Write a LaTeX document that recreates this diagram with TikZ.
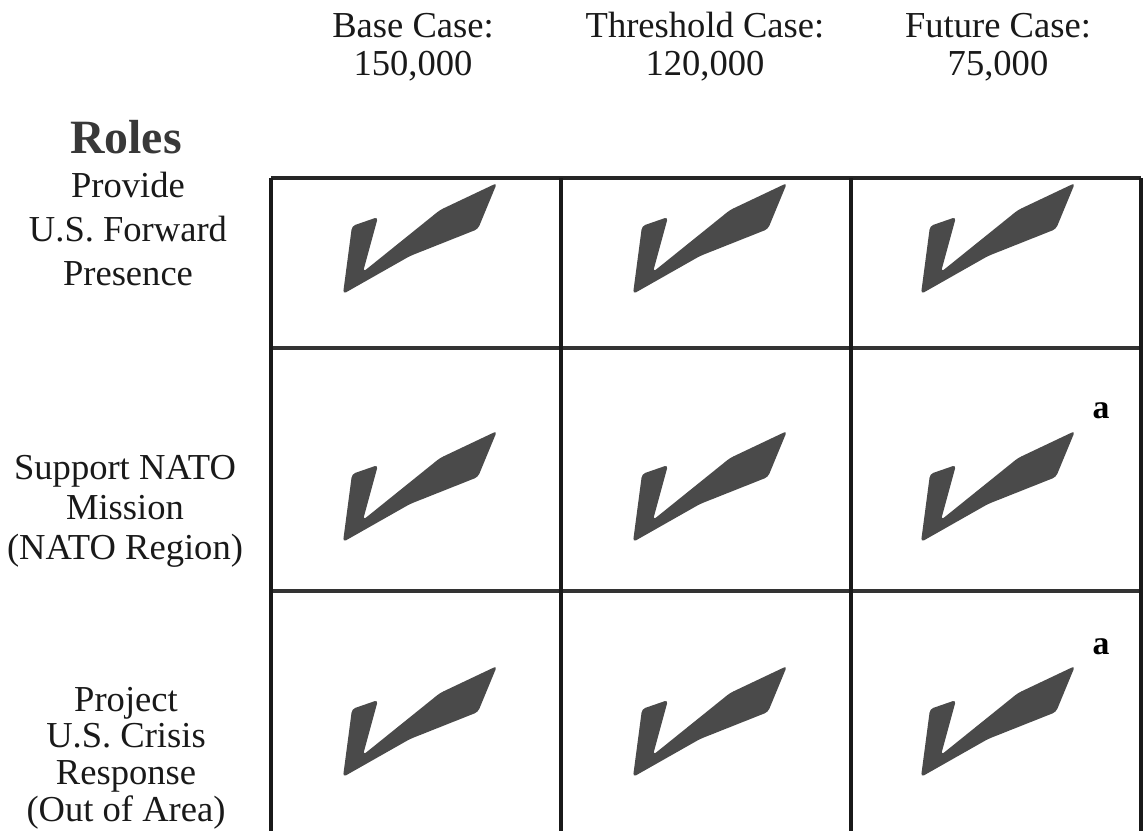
\documentclass[tikz,border=0pt]{standalone}
\usepackage{fontspec}
\setmainfont{Liberation Serif}

\begin{document}
\begin{tikzpicture}[x=0.025cm, y=-0.025cm,
        cell text/.style={align=center, text=black!90},
        checkmark/.pic={\fill [black!71, rounded corners=2.5pt] (-2,2) -- (7,-66) -- (33,-75) -- (18,-20) -- (95,-82) -- (152,-109) -- (133,-63) -- (65,-36) -- cycle;}]
        \useasboundingbox (0,0) rectangle (1143,831);

        % Grid
        \draw [line width=2.2pt, black!85] (271,178) -- (1141,178);
        \draw [line width=2.2pt, black!80] (271,348) -- (1141,348);
        \draw [line width=2.2pt, black!80] (271,591) -- (1141,591);
        \draw [line width=2.2pt, black!90] (271,178) -- (271,831);
        \draw [line width=2.2pt, black!90] (561,178) -- (561,831);
        \draw [line width=2.2pt, black!90] (851,178) -- (851,831);
        \draw [line width=2.2pt, black!90] (1141,178) -- (1141,831);

        % Headers
        \node [cell text, font=\fontsize{26}{27}\selectfont] (base) at (413,47) {Base Case:\\150,000};
        \node [cell text, font=\fontsize{26}{27}\selectfont] (threshold) at (705,47) {Threshold Case:\\120,000};
        \node [cell text, font=\fontsize{26}{27}\selectfont] (future) at (998,47) {Future Case:\\75,000};

        % Roles
        \node [text=black!78, font=\fontsize{34}{40}\selectfont\bfseries] (roles) at (126,137) {Roles};
        \node [cell text, font=\fontsize{26}{31.5}\selectfont] (presence) at (128,229) {Provide\\U.S.\ Forward\\Presence};
        \node [cell text, font=\fontsize{26}{28.5}\selectfont] (nato) at (125,511) {Support NATO\\Mission\\(NATO Region)};
        \node [cell text, inner sep=0pt, font=\fontsize{26}{26}\selectfont] (crisis) at (126,758) {Project\\U.S.\ Crisis\\Response\\(Out of Area)};

        % Checks
        \pic at (345,292) {checkmark};
        \pic at (635,292) {checkmark};
        \pic at (923,292) {checkmark};
        \pic at (345,540) {checkmark};
        \pic at (635,540) {checkmark};
        \pic at (923,540) {checkmark};
        \pic at (345,775) {checkmark};
        \pic at (635,775) {checkmark};
        \pic at (923,775) {checkmark};

        % Notes
        \node [font=\fontsize{24}{28}\selectfont\bfseries] (a1) at (1101,411) {a};
        \node [font=\fontsize{24}{28}\selectfont\bfseries] (a2) at (1101,647) {a};
\end{tikzpicture}
\end{document}
